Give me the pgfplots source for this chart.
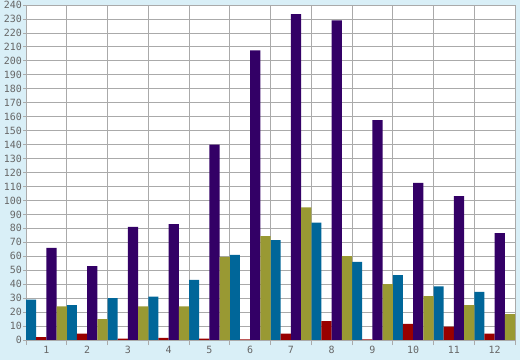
\documentclass[border=0pt]{standalone}
\usepackage{fontspec}
\setmainfont{DejaVu Sans Mono}
\usepackage{pgfplots}
\pgfplotsset{compat=1.18}
\definecolor{bg}{HTML}{D9EFF7}
\definecolor{gridc}{HTML}{AAAAAA}
\definecolor{labc}{HTML}{666666}
\definecolor{cblue}{HTML}{006699}
\definecolor{cred}{HTML}{990000}
\definecolor{cpurple}{HTML}{330066}
\definecolor{colive}{HTML}{999933}
\pgfplotstableread{
g blue red purple olive
1 29 2 66 24
2 25 4.5 53 15
3 30 1 81 24
4 31 1.5 83 24
5 43 1 140 59.5
6 61 0.5 207.5 74.5
7 71.5 4.5 233.5 95
8 84 13.5 229 60
9 56 0.5 157.5 40
10 46.5 11.5 112.5 31.5
11 38.5 9.5 103 25
12 34.5 4.5 76.5 18.5
}\data
\begin{document}
\begin{tikzpicture}
\fill[bg] (0,0) rectangle (520bp,360bp);
\begin{axis}[
  at={(26bp,20bp)}, anchor=south west,
  scale only axis, width=489bp, height=335bp,
  xmin=0.5, xmax=12.5, ymin=0, ymax=240,
  axis background/.style={fill=white},
  axis line style={draw=gridc, line width=0.8pt},
  xtick={1,...,12}, xticklabels={1,2,3,4,5,6,7,8,9,10,11,12},
  major x tick style={draw=none},
  minor xtick={0.5,1.5,...,12.5},
  xminorgrids, minor x grid style={draw=gridc, line width=0.8pt},
  minor x tick style={draw=gridc, line width=0.8pt},
  ytick={0,10,...,240}, ymajorgrids,
  major y grid style={draw=gridc, line width=0.8pt},
  major y tick style={draw=gridc, line width=0.8pt},
  tick pos=left, tick align=outside,
  major tick length=3bp, minor tick length=5bp,
  ticklabel style={font=\fontsize{10}{10}\selectfont, text=labc},
  /pgf/number format/assume math mode=true,
  yticklabel style={inner sep=1bp},
  xticklabel style={inner sep=1bp, yshift=-2bp},
]
\addplot[ybar, bar width=0.25, bar shift=-0.375, fill=cblue, draw=none] table[x=g, y=blue] {\data};
\addplot[ybar, bar width=0.25, bar shift=-0.125, fill=cred, draw=none] table[x=g, y=red] {\data};
\addplot[ybar, bar width=0.25, bar shift=0.125, fill=cpurple, draw=none] table[x=g, y=purple] {\data};
\addplot[ybar, bar width=0.25, bar shift=0.375, fill=colive, draw=none] table[x=g, y=olive] {\data};
\end{axis}
\end{tikzpicture}
\end{document}
